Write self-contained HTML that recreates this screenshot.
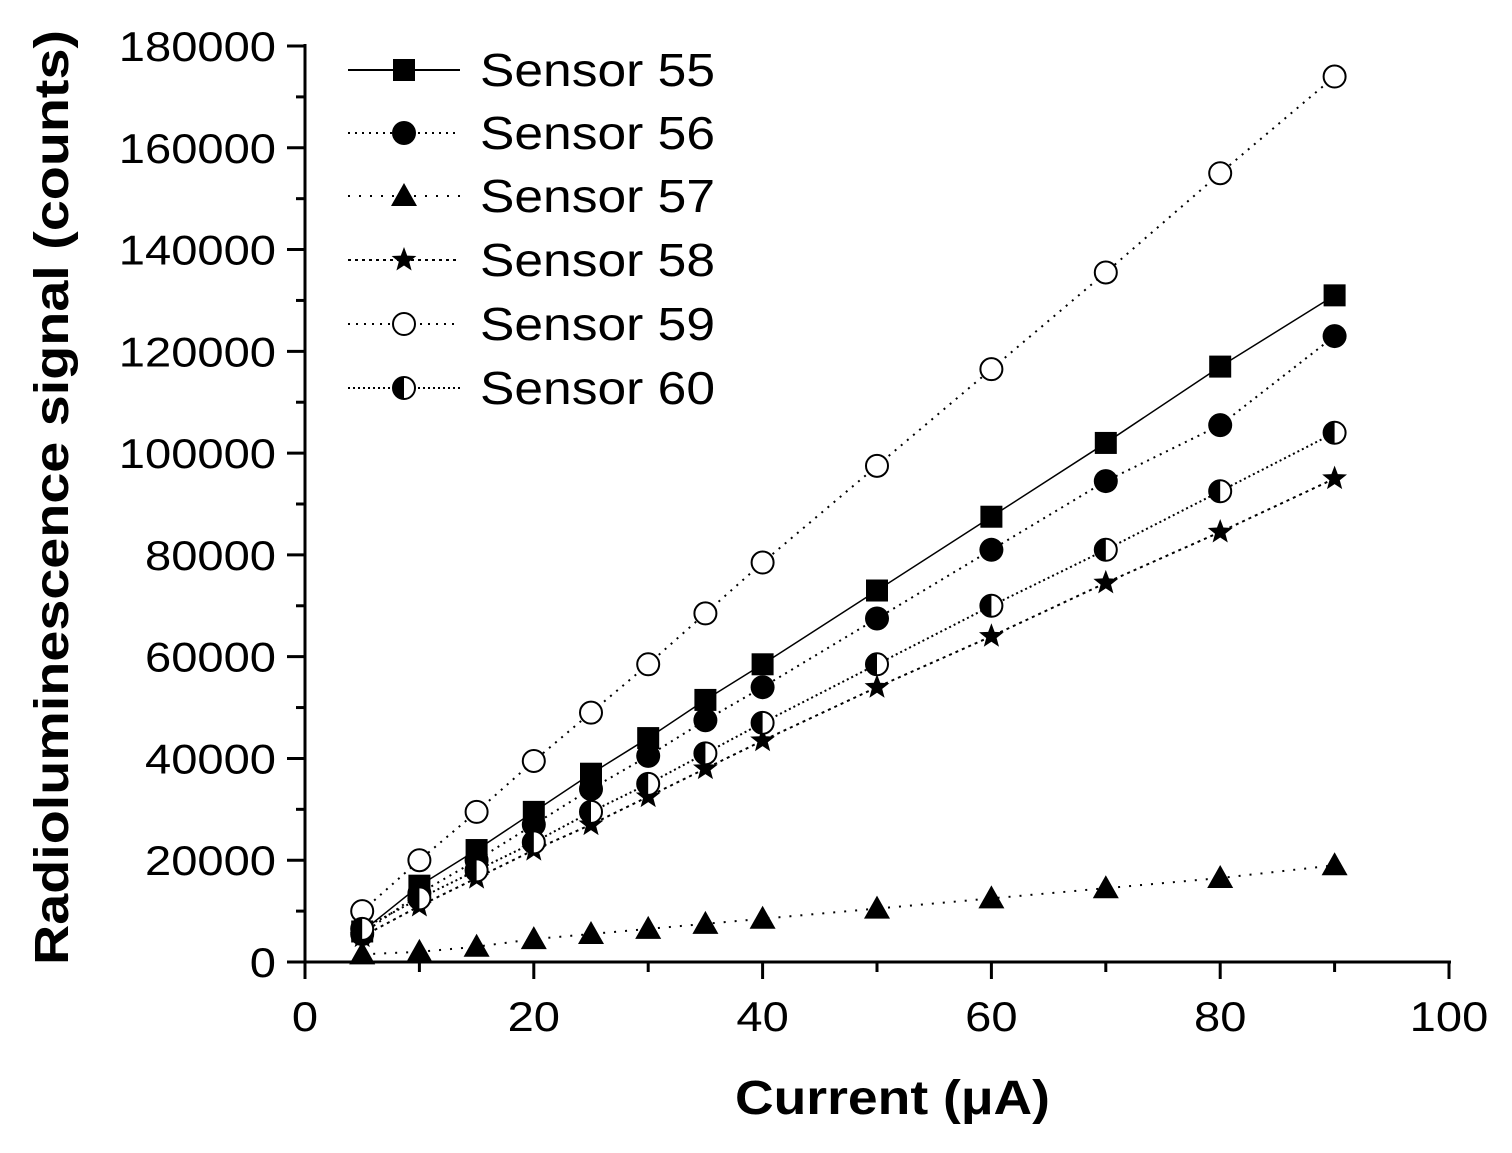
<!DOCTYPE html><html><head><style>body{margin:0;background:#fff}svg{display:block}text{font-family:"Liberation Sans",sans-serif}</style></head><body>
<svg id="s" width="1512" height="1153" xmlns="http://www.w3.org/2000/svg"></svg>
<script>
const X=v=>305+v*11.44, Y=v=>962-v*916/180000;
let h='';
const T=(s,n)=>`textLength="${s.length*n}" lengthAdjust="spacingAndGlyphs"`;
h+='<line x1="305" y1="44" x2="305" y2="964" stroke="#000" stroke-width="3"/><line x1="303" y1="962" x2="1451" y2="962" stroke="#000" stroke-width="3"/>';
for(let v=0;v<=180000;v+=10000){let y=Y(v),maj=v%20000==0;h+=`<line x1="${maj?287:296}" y1="${y}" x2="305" y2="${y}" stroke="#000" stroke-width="3"/>`;if(maj)h+=`<text x="${276-String(v).length*26.2}" y="${y+15}" font-size="42" ${T(String(v),26.2)}>${v}</text>`;}
for(let v=0;v<=100;v+=10){let x=X(v),maj=v%20==0;h+=`<line x1="${x}" y1="962" x2="${x}" y2="${maj?979:972}" stroke="#000" stroke-width="3"/>`;if(maj){let s=String(v);h+=`<text x="${x-s.length*13.1}" y="1031" font-size="42" ${T(s,26.2)}>${v}</text>`;}}
h+='<text x="735" y="1114" font-size="48" font-weight="bold" textLength="315" lengthAdjust="spacingAndGlyphs">Current (μA)</text>';
h+='<text transform="translate(68,965) rotate(-90)" font-size="48" font-weight="bold" textLength="935" lengthAdjust="spacingAndGlyphs">Radioluminescence signal (counts)</text>';
const xs=[5,10,15,20,25,30,35,40,50,60,70,80,90];
const D=[
['sq','none',[6000,15000,22000,29500,37000,44000,51500,58500,73000,87500,102000,117000,131000]],
['ci','2,5',[5500,13500,20000,27000,34000,40500,47500,54000,67500,81000,94500,105500,123000]],
['tr','2,9',[1500,2000,3000,4500,5500,6500,7500,8500,10500,12500,14500,16500,19000]],
['st','3,4',[5000,11000,16500,22000,27000,32500,38000,43500,54000,64000,74500,84500,95000]],
['oc','2,6',[10000,20000,29500,39500,49000,58500,68500,78500,97500,116500,135500,155000,174000]],
['hc','2,3',[6500,12500,18000,23500,29500,35000,41000,47000,58500,70000,81000,92500,104000]]];
function M(t,x,y){
 if(t=='sq')return `<rect x="${x-11}" y="${y-11}" width="22" height="22"/>`;
 if(t=='ci')return `<circle cx="${x}" cy="${y}" r="12"/>`;
 if(t=='tr')return `<polygon points="${x},${y-13} ${x+13},${y+10} ${x-13},${y+10}"/>`;
 if(t=='st'){let p=[];for(let i=0;i<10;i++){let r=i%2?5.5:13,a=-Math.PI/2+i*Math.PI/5;p.push((x+r*Math.cos(a)).toFixed(1)+','+(y+r*Math.sin(a)).toFixed(1));}return `<polygon points="${p.join(' ')}"/>`;}
 if(t=='oc')return `<circle cx="${x}" cy="${y}" r="11" fill="#fff" stroke="#000" stroke-width="2"/>`;
 return `<circle cx="${x}" cy="${y}" r="11" fill="#fff" stroke="#000" stroke-width="2"/><path d="M${x},${y-11} A11,11 0 0 0 ${x},${y+11}Z"/>`;
}
const names=[55,56,57,58,59,60],ly=[70,133,196,260,324,388];
D.forEach((d,i)=>{let pts=xs.map((x,j)=>X(x)+','+Y(d[2][j])).join(' ');
 h+=`<polyline points="${pts}" fill="none" stroke="#000" stroke-width="${d[1]=='none'?1.5:2}" ${d[1]=='none'?'':'stroke-dasharray="'+d[1]+'"'}/>`;
 xs.forEach((x,j)=>h+=M(d[0],X(x),Y(d[2][j])));
 h+=`<line x1="348" y1="${ly[i]}" x2="460" y2="${ly[i]}" stroke="#000" stroke-width="2" ${d[1]=='none'?'':'stroke-dasharray="'+d[1]+'"'}/>`+M(d[0],404,ly[i]);
 h+=`<text x="480" y="${ly[i]+16}" font-size="46" textLength="235" lengthAdjust="spacingAndGlyphs">Sensor ${names[i]}</text>`;
});
document.getElementById('s').innerHTML=h;
</script></body></html>
